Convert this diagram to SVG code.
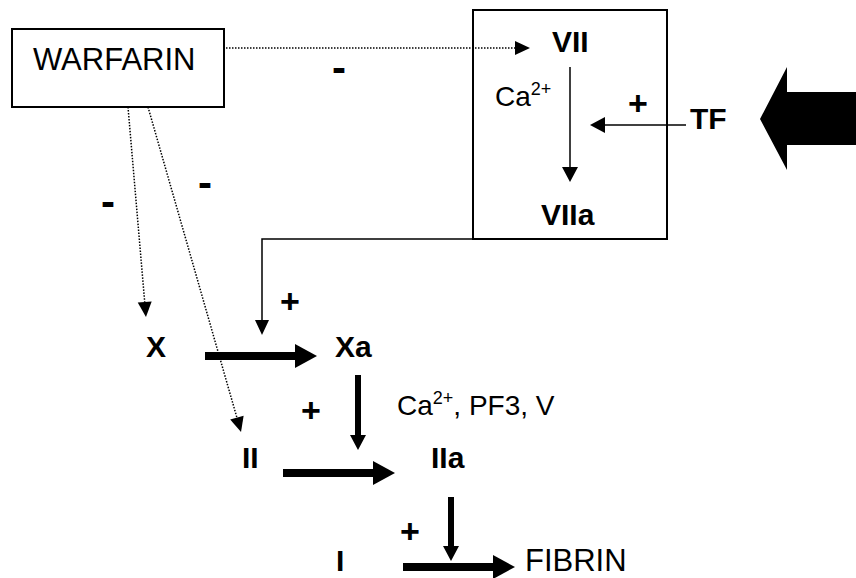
<svg xmlns="http://www.w3.org/2000/svg" width="856" height="578" viewBox="0 0 856 578">
<defs>
<style>
text{font-family:"Liberation Sans",Arial,sans-serif;fill:#000}
.b{font-weight:bold;font-size:30px}
.r{font-size:28px}
.sup{font-size:18px}
.plus{font-weight:bold;font-size:34px;text-anchor:middle}
.minus{font-weight:bold;font-size:42px;text-anchor:middle}
.box{fill:#fff;stroke:#000;stroke-width:2}
.thin{fill:none;stroke:#000;stroke-width:1.5}
.dot{fill:none;stroke:#000;stroke-width:1.5;stroke-dasharray:1.5 1.5}
.thickh{fill:none;stroke:#000;stroke-width:8}
.thickv{fill:none;stroke:#000;stroke-width:6}
</style>
<marker id="ah" markerUnits="userSpaceOnUse" markerWidth="15" markerHeight="14" refX="0" refY="7" orient="auto" overflow="visible">
<path d="M0,0 L15,7 L0,14 Z" fill="#000" stroke="none"/>
</marker>
<marker id="ahH" markerUnits="userSpaceOnUse" markerWidth="22" markerHeight="24" refX="0" refY="12" orient="auto" overflow="visible">
<path d="M0,0 L22,12 L0,24 Z" fill="#000" stroke="none"/>
</marker>
<marker id="ahV" markerUnits="userSpaceOnUse" markerWidth="15" markerHeight="16" refX="0" refY="8" orient="auto" overflow="visible">
<path d="M0,0 L15,8 L0,16 Z" fill="#000" stroke="none"/>
</marker>
</defs>
<rect width="856" height="578" fill="#fff"/>

<g id="warfarin">
<rect class="box" x="12" y="29" width="212" height="78"/>
<text x="33" y="70" style="font-size:31px">WARFARIN</text>
</g>

<g id="vii-box">
<rect class="box" x="473" y="10" width="194" height="229"/>
</g>

<g id="vii"><text class="b" x="552" y="52">VII</text></g>
<g id="ca-box"><text class="r" x="495" y="106">Ca<tspan class="sup" dy="-11">2+</tspan></text></g>
<g id="tf"><text class="b" x="690" y="129">TF</text></g>
<g id="viia"><text class="b" x="541" y="225">VIIa</text></g>
<g id="x"><text class="b" x="146" y="357">X</text></g>
<g id="xa"><text class="b" x="335" y="357">Xa</text></g>
<g id="cofactors"><text class="r" x="397" y="415">Ca<tspan class="sup" dy="-11">2+</tspan><tspan dy="11">, PF3, V</tspan></text></g>
<g id="ii"><text class="b" x="242" y="468">II</text></g>
<g id="iia"><text class="b" x="431" y="468">IIa</text></g>
<g id="i"><text class="b" x="336" y="571">I</text></g>
<g id="fibrin"><text x="525" y="571" style="font-size:31px">FIBRIN</text></g>

<g id="signs">
<text class="minus" x="339" y="82">-</text>
<text class="minus" x="205" y="197">-</text>
<text class="minus" x="108" y="216">-</text>
<text class="plus" x="638" y="115">+</text>
<text class="plus" x="290" y="313">+</text>
<text class="plus" x="311" y="422">+</text>
<text class="plus" x="410" y="543">+</text>
</g>

<g id="connectors">
<line class="dot" x1="226" y1="48" x2="515" y2="48" marker-end="url(#ah)"/>
<line class="dot" x1="128" y1="107" x2="144.7" y2="302" marker-end="url(#ah)"/>
<line class="dot" x1="148" y1="107" x2="236.9" y2="417.6" marker-end="url(#ah)"/>
<polyline class="thin" points="473,239 262,239 262,320" marker-end="url(#ah)"/>
<line class="thin" x1="570" y1="67" x2="570" y2="167" marker-end="url(#ahV)"/>
<line class="thin" x1="686" y1="125" x2="605" y2="125" marker-end="url(#ahV)"/>
<polygon points="856,92 787,92 787,67 760,119 787,170 787,145 856,145" fill="#000"/>
<line class="thickh" x1="205" y1="356" x2="295" y2="356" marker-end="url(#ahH)"/>
<line class="thickv" x1="358" y1="375" x2="358" y2="435" marker-end="url(#ahV)"/>
<line class="thickh" x1="283" y1="473" x2="373" y2="473" marker-end="url(#ahH)"/>
<line class="thickv" x1="451" y1="497" x2="451" y2="546" marker-end="url(#ahV)"/>
<line class="thickh" x1="403" y1="567" x2="493" y2="567" marker-end="url(#ahH)"/>
</g>
</svg>
